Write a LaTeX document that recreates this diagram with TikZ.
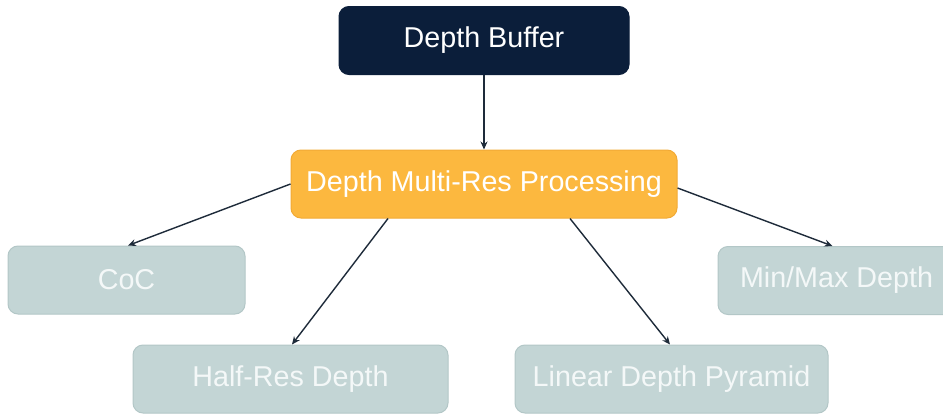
\documentclass[tikz,border=0pt]{standalone}
\usepackage{fontspec}
\setmainfont{Liberation Sans}
\usetikzlibrary{arrows.meta}
\definecolor{navy}{HTML}{0B1E3A}
\definecolor{orangebox}{HTML}{FCB83F}
\definecolor{orangeedge}{HTML}{F2AA35}
\definecolor{grayteal}{HTML}{C3D5D5}
\definecolor{graytealedge}{HTML}{B3C7C7}
\definecolor{paletext}{HTML}{F4F8F8}
\definecolor{arrowcol}{HTML}{1E2B3A}
\tikzset{
  box/.style={rectangle, rounded corners=10pt, minimum height=68pt, inner sep=0pt,
    font=\fontsize{28.7}{33}\selectfont, line width=1pt},
  topbox/.style={box, fill=navy, draw=navy, text=white, minimum width=290pt},
  midbox/.style={box, fill=orangebox, draw=orangeedge, text=white, minimum width=386pt},
  leafbox/.style={box, fill=grayteal, draw=graytealedge, text=paletext},
  conn/.style={draw=arrowcol, line width=1.4pt, -{Stealth[length=8pt,width=7pt]}}
}
\begin{document}
\begin{tikzpicture}[x=1pt,y=-1pt]
\clip (0,0) rectangle (943,415);
\fill[white] (0,0) rectangle (943,415);
\node[topbox] (buf) at (484,40.5) {Depth Buffer};
\node[midbox] (mid) at (484,184) {Depth Multi-Res Processing};
\node[leafbox, minimum width=237pt] (coc) at (126.5,280) {CoC};
\node[leafbox, minimum width=237pt] (minmax) at (836.5,280.5) {Min/Max Depth};
\node[leafbox, minimum width=315pt] (half) at (290.5,379) {Half-Res Depth};
\node[leafbox, minimum width=313pt] (lin) at (671.5,379) {Linear Depth Pyramid};
\draw[conn] (buf.south) -- (mid.north);
\draw[conn] (mid.west) -- ([xshift=1.5pt]coc.north);
\draw[conn] ([yshift=-4pt]mid.east) -- ([xshift=-4pt]minmax.north);
\draw[conn] ([xshift=-96pt]mid.south) -- ([xshift=1.5pt]half.north);
\draw[conn] ([xshift=86pt]mid.south) -- ([xshift=-1.5pt]lin.north);
\end{tikzpicture}
\end{document}
